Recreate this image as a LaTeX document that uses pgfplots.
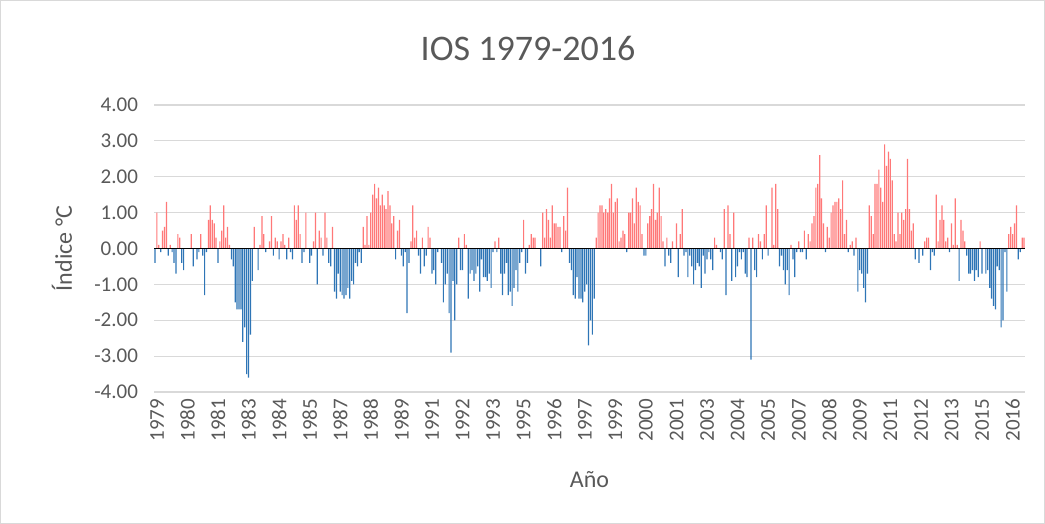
\documentclass[border=0pt]{standalone}
\usepackage{fontspec}
\setmainfont{Carlito}
\usepackage{pgfplots}
\pgfplotsset{compat=1.18}
\usepackage{pgfplotstable}
\definecolor{txt}{RGB}{89,89,89}
\definecolor{gridc}{RGB}{217,217,217}
\definecolor{posc}{RGB}{255,120,120}
\definecolor{negc}{RGB}{46,117,182}

% Monthly index, Jan 1979 ... Dec 2016 (one row of 12 per year)
\pgfplotstableread[row sep=\\]{
v\\
-0.4\\ 1.0\\ 0.1\\ -0.1\\ 0.5\\ 0.6\\ 1.3\\ -0.2\\ 0.1\\ -0.1\\ -0.4\\ -0.7\\
0.4\\ 0.3\\ -0.4\\ -0.6\\ 0.0\\ 0.0\\ 0.0\\ 0.4\\ -0.5\\ 0.0\\ -0.3\\ -0.1\\
0.4\\ -0.2\\ -1.3\\ -0.1\\ 0.8\\ 1.2\\ 0.8\\ 0.7\\ 0.3\\ -0.4\\ 0.2\\ 0.5\\
1.2\\ 0.3\\ 0.6\\ 0.1\\ -0.3\\ -0.5\\ -1.5\\ -1.7\\ -1.7\\ -1.7\\ -2.6\\ -2.2\\
-3.5\\ -3.6\\ -2.4\\ -0.9\\ 0.6\\ 0.0\\ -0.6\\ 0.1\\ 0.9\\ 0.4\\ -0.1\\ 0.0\\
0.2\\ 0.9\\ -0.2\\ 0.3\\ 0.2\\ -0.3\\ 0.2\\ 0.4\\ 0.1\\ -0.3\\ 0.3\\ -0.1\\
-0.3\\ 1.2\\ 0.8\\ 1.2\\ 0.4\\ -0.4\\ -0.1\\ 1.0\\ 0.0\\ -0.4\\ -0.2\\ 0.2\\
1.0\\ -1.0\\ 0.5\\ 0.3\\ -0.2\\ 1.0\\ 0.3\\ -0.4\\ -0.5\\ 0.6\\ -1.2\\ -1.4\\
-0.7\\ -1.2\\ -1.3\\ -1.4\\ -1.3\\ -1.1\\ -1.4\\ -0.9\\ -1.0\\ -0.4\\ -0.5\\ -0.1\\
-0.4\\ 0.6\\ 0.1\\ 0.9\\ 0.1\\ 1.0\\ 1.5\\ 1.8\\ 1.4\\ 1.7\\ 1.2\\ 1.5\\
1.2\\ 1.1\\ 1.6\\ 1.2\\ 0.7\\ 0.9\\ -0.3\\ 0.5\\ 0.8\\ -0.2\\ -0.5\\ -0.1\\
-1.8\\ -0.4\\ 0.2\\ 1.2\\ 0.3\\ 0.5\\ -0.2\\ -0.7\\ 0.3\\ -0.5\\ -0.2\\ 0.6\\
0.3\\ -0.7\\ -0.6\\ -1.0\\ -0.1\\ 0.0\\ -0.4\\ -1.5\\ -1.0\\ -0.7\\ -1.8\\ -2.9\\
-0.9\\ -2.0\\ -1.0\\ 0.3\\ -0.6\\ -0.6\\ 0.4\\ 0.1\\ -1.4\\ -0.7\\ -0.6\\ -0.9\\
-0.7\\ -0.5\\ -1.2\\ -0.3\\ -0.8\\ -0.8\\ -0.9\\ -0.7\\ -1.1\\ -0.1\\ 0.2\\ -0.1\\
0.3\\ -0.7\\ -1.3\\ -0.7\\ -0.4\\ -1.3\\ -1.2\\ -1.6\\ -1.1\\ -0.6\\ -1.2\\ -0.4\\
-0.1\\ 0.8\\ -0.7\\ -0.4\\ 0.1\\ 0.4\\ 0.3\\ 0.3\\ 0.0\\ 0.0\\ -0.5\\ 1.0\\
0.3\\ 1.1\\ 0.8\\ 0.3\\ 1.2\\ 0.7\\ 0.7\\ 0.6\\ 0.6\\ -0.1\\ 0.9\\ 0.5\\
1.7\\ -0.4\\ -0.6\\ -1.3\\ -1.4\\ -0.8\\ -1.4\\ -1.4\\ -1.5\\ -1.2\\ -1.0\\ -2.7\\
-2.0\\ -2.4\\ -1.4\\ 0.3\\ 1.0\\ 1.2\\ 1.2\\ 1.0\\ 1.1\\ 1.0\\ 1.4\\ 1.8\\
1.0\\ 1.3\\ 1.4\\ 0.2\\ 0.3\\ 0.5\\ 0.4\\ -0.1\\ 1.0\\ 1.0\\ 1.4\\ 0.7\\
1.7\\ 1.3\\ 1.2\\ 0.4\\ -0.2\\ -0.2\\ 0.7\\ 0.9\\ 1.1\\ 1.8\\ 0.8\\ 1.0\\
1.7\\ 0.9\\ 0.2\\ -0.5\\ 0.3\\ -0.2\\ -0.4\\ 0.2\\ 0.0\\ 0.7\\ -0.8\\ 0.4\\
1.1\\ -0.2\\ -0.1\\ -0.8\\ -0.2\\ -0.5\\ -1.0\\ -0.6\\ -0.4\\ -0.5\\ -1.1\\ -0.2\\
-0.7\\ -0.3\\ -0.1\\ -0.3\\ -0.6\\ 0.3\\ 0.1\\ 0.0\\ -0.1\\ -0.3\\ 1.1\\ -1.3\\
1.2\\ 0.4\\ -0.9\\ 1.0\\ -0.8\\ -0.5\\ -0.1\\ -0.3\\ -0.1\\ -0.7\\ -0.8\\ 0.3\\
-3.1\\ 0.3\\ -0.6\\ -0.8\\ 0.4\\ 0.2\\ -0.3\\ 0.4\\ 1.2\\ -0.2\\ 0.0\\ 1.7\\
0.1\\ 1.8\\ 1.1\\ -0.5\\ -0.2\\ -0.6\\ -1.0\\ -0.6\\ -1.3\\ 0.1\\ -0.3\\ -0.8\\
-0.1\\ 0.2\\ -0.1\\ -0.1\\ 0.5\\ -0.3\\ 0.4\\ 0.2\\ 0.7\\ 0.9\\ 1.7\\ 1.8\\
2.6\\ 1.4\\ 0.7\\ -0.1\\ 0.6\\ 0.3\\ 1.0\\ 1.2\\ 1.3\\ 1.3\\ 1.4\\ 1.1\\
1.9\\ 0.4\\ 0.8\\ -0.1\\ 0.1\\ 0.2\\ -0.2\\ 0.3\\ -1.2\\ -0.6\\ -0.7\\ -1.1\\
-1.5\\ -0.7\\ 1.2\\ 0.9\\ 0.4\\ 1.8\\ 1.8\\ 2.2\\ 1.7\\ 1.3\\ 2.9\\ 2.3\\
2.7\\ 2.5\\ 1.9\\ 0.4\\ 0.2\\ 1.0\\ 0.4\\ 1.0\\ 0.8\\ 1.1\\ 2.5\\ 1.1\\
0.5\\ 0.7\\ -0.3\\ 0.0\\ -0.4\\ 0.0\\ -0.2\\ 0.2\\ 0.3\\ 0.3\\ -0.6\\ -0.1\\
-0.2\\ 1.5\\ 0.2\\ 0.8\\ 1.2\\ 0.8\\ 0.2\\ 0.3\\ -0.1\\ 0.7\\ 0.1\\ 1.4\\
0.1\\ -0.9\\ 0.8\\ 0.5\\ 0.2\\ -0.2\\ -0.7\\ -0.7\\ -0.6\\ -0.9\\ -0.6\\ -0.8\\
0.2\\ -0.7\\ 0.0\\ -0.7\\ -0.6\\ -1.1\\ -1.4\\ -1.6\\ -1.7\\ -0.5\\ -0.6\\ -2.2\\
-2.0\\ -0.1\\ -1.2\\ 0.4\\ 0.6\\ 0.4\\ 0.7\\ 1.2\\ -0.3\\ -0.1\\ 0.3\\ 0.3\\
}\soi

\begin{document}
\begin{tikzpicture}
\path[use as bounding box] (0,0) rectangle (522.5bp,262bp);
\draw[gridc, line width=0.6bp] (0.4bp,0.4bp) rectangle (522.1bp,261.6bp);
\node[text=txt, font=\fontsize{18bp}{21bp}\selectfont] at (264bp,238bp) {IOS 1979-2016};
\begin{axis}[
  at={(77bp,66bp)}, anchor=south west,
  scale only axis, width=435.5bp, height=143.5bp,
  xmin=-0.5, xmax=455.5, ymin=-4, ymax=4,
  ytick={-4,-3,...,4},
  xtick={0,16,...,448},
  xticklabels={1979,1980,1981,1983,1984,1985,1987,1988,1989,1991,1992,1993,1995,1996,1997,1999,2000,2001,2003,2004,2005,2007,2008,2009,2011,2012,2013,2015,2016},
  xticklabel style={rotate=90, anchor=east, text=txt, font=\fontsize{10.5bp}{12bp}\selectfont, yshift=-1bp},
  yticklabel style={text=txt, font=\fontsize{10.5bp}{12bp}\selectfont, xshift=-4.5bp,
    /pgf/number format/.cd, fixed, fixed zerofill, precision=2, assume math mode=true},
  ymajorgrids, major grid style={gridc, line width=0.6bp},
  axis line style={draw=none},
  major tick length=0pt,
  xlabel={Año}, ylabel={Índice °C},
  label style={text=txt, font=\fontsize{12bp}{14bp}\selectfont},
  xlabel style={at={(axis description cs:0.5,-0.3066)}, anchor=center},
  ylabel style={at={(axis description cs:-0.1056,0.5)}, anchor=center},
]
\addplot[ybar, bar width=0.6bp, bar shift=0pt, draw=none, fill=posc,
  restrict y to domain=0:10] table[x expr=\coordindex, y=v] {\soi};
\addplot[ybar, bar width=0.6bp, bar shift=0pt, draw=none, fill=negc,
  restrict y to domain=-10:0] table[x expr=\coordindex, y=v] {\soi};
\draw[black, line width=0.9bp] (axis cs:-0.5,0) -- (axis cs:455.5,0);
\end{axis}
\end{tikzpicture}
\end{document}
